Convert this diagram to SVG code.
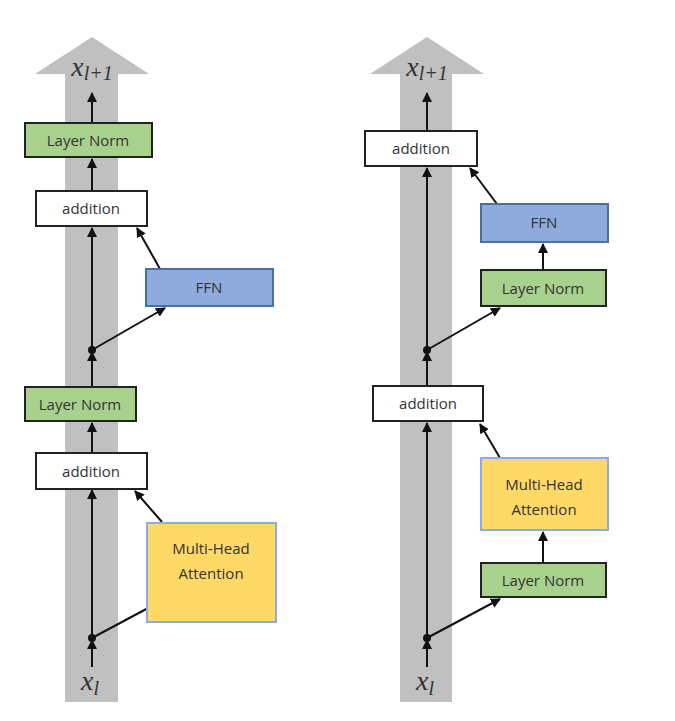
<svg xmlns="http://www.w3.org/2000/svg" width="675" height="721" viewBox="0 0 675 721">
<style>
.bar{fill:#c0c0c0}
.box{stroke:#222;stroke-width:2}
.g{fill:#a9d18e}.w{fill:#fff}.b{fill:#8faadc;stroke:#4a6fa5}.y{fill:#ffd966;stroke:#8faadc}
.t{font-family:"Open Sans","Liberation Sans",sans-serif;font-size:15px;fill:#333;text-anchor:middle}
.m{font-family:"Liberation Serif",serif;font-style:italic;fill:#333;text-anchor:middle}
.c line{stroke:#111;stroke-width:2;marker-end:url(#ah)}
</style>
<defs><marker id="ah" viewBox="0 0 10 10" refX="9" refY="5" markerWidth="5" markerHeight="5" orient="auto"><path d="M0,0L10,5L0,10z" fill="#111"/></marker></defs>
<rect width="675" height="721" fill="#fff"/>
<g id="pipe-left"><rect class="bar" x="65" y="72" width="53" height="630"/><path class="bar" d="M35,74L92,37L149,74z"/></g>
<g id="pipe-right"><rect class="bar" x="400" y="72" width="52" height="630"/><path class="bar" d="M370,74L427,37L484,74z"/></g>
<g id="labels">
<text class="m" x="92" y="76" font-size="28">x<tspan font-size="20" dy="4">l+1</tspan></text>
<text class="m" x="427" y="76" font-size="28">x<tspan font-size="20" dy="4">l+1</tspan></text>
<text class="m" x="90" y="690" font-size="28">x<tspan font-size="20" dy="5">l</tspan></text>
<text class="m" x="425" y="690" font-size="28">x<tspan font-size="20" dy="5">l</tspan></text>
</g>
<g class="c" id="connectors">
<line x1="92" y1="667" x2="92" y2="640"/><line x1="92" y1="638" x2="92" y2="490"/><line x1="92" y1="638" x2="165" y2="599"/>
<line x1="162" y1="522" x2="135" y2="491"/><line x1="92" y1="453" x2="92" y2="423"/><line x1="92" y1="387" x2="92" y2="352"/>
<line x1="92" y1="350" x2="92" y2="228"/><line x1="92" y1="350" x2="165" y2="308"/><line x1="160" y1="269" x2="137" y2="228"/>
<line x1="92" y1="191" x2="92" y2="159"/><line x1="92" y1="123" x2="92" y2="93"/>
<line x1="427" y1="667" x2="427" y2="640"/><line x1="427" y1="638" x2="427" y2="423"/><line x1="427" y1="638" x2="500" y2="599"/>
<line x1="543" y1="563" x2="543" y2="532"/><line x1="500" y1="458" x2="480" y2="424"/><line x1="427" y1="386" x2="427" y2="352"/>
<line x1="427" y1="350" x2="427" y2="168"/><line x1="427" y1="350" x2="500" y2="308"/><line x1="543" y1="270" x2="543" y2="244"/>
<line x1="497" y1="204" x2="470" y2="168"/><line x1="427" y1="131" x2="427" y2="93"/>
<circle cx="92" cy="638" r="4" fill="#111"/><circle cx="92" cy="350" r="4" fill="#111"/>
<circle cx="427" cy="638" r="4" fill="#111"/><circle cx="427" cy="350" r="4" fill="#111"/>
</g>
<g id="L-ln2"><rect class="box g" x="25" y="123" width="127" height="34"/><text class="t" x="88" y="146">Layer Norm</text></g>
<g id="L-add2"><rect class="box w" x="36" y="191" width="111" height="35"/><text class="t" x="91" y="214">addition</text></g>
<g id="L-ffn"><rect class="box b" x="146" y="269" width="127" height="37"/><text class="t" x="209" y="293">FFN</text></g>
<g id="L-ln1"><rect class="box g" x="25" y="387" width="111" height="34"/><text class="t" x="80" y="410">Layer Norm</text></g>
<g id="L-add1"><rect class="box w" x="36" y="453" width="111" height="36"/><text class="t" x="91" y="477">addition</text></g>
<g id="L-mha"><rect class="box y" x="147" y="523" width="129" height="99"/><text class="t" x="211" y="554">Multi-Head</text><text class="t" x="211" y="579">Attention</text></g>
<g id="R-add2"><rect class="box w" x="365" y="131" width="112" height="35"/><text class="t" x="421" y="154">addition</text></g>
<g id="R-ffn"><rect class="box b" x="481" y="204" width="127" height="38"/><text class="t" x="544" y="228">FFN</text></g>
<g id="R-ln2"><rect class="box g" x="481" y="270" width="125" height="36"/><text class="t" x="543" y="294">Layer Norm</text></g>
<g id="R-add1"><rect class="box w" x="373" y="386" width="110" height="35"/><text class="t" x="428" y="409">addition</text></g>
<g id="R-mha"><rect class="box y" x="481" y="458" width="127" height="72"/><text class="t" x="544" y="490">Multi-Head</text><text class="t" x="544" y="515">Attention</text></g>
<g id="R-ln1"><rect class="box g" x="481" y="563" width="125" height="34"/><text class="t" x="543" y="586">Layer Norm</text></g>
</svg>
